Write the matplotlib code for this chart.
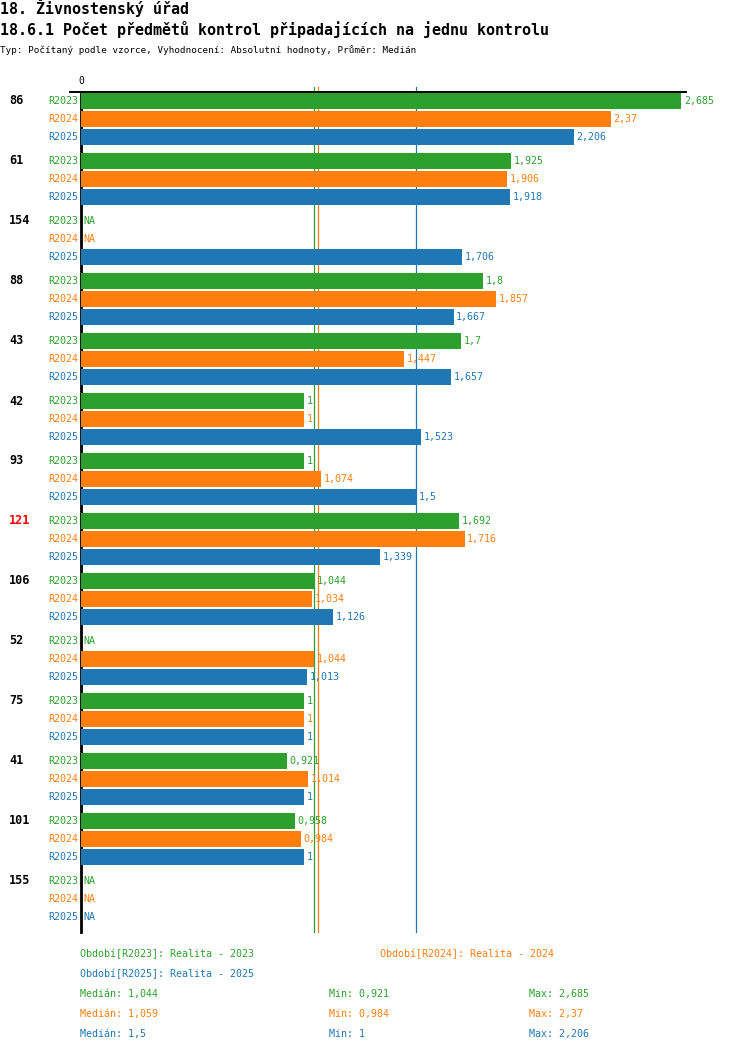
#!/usr/bin/env python
# Pocet predmetu kontrol pripadajicich na jednu kontrolu - horizontal grouped bars

import numpy as np
import matplotlib.pyplot as plt
from matplotlib.lines import Line2D

plt.rcParams['font.family'] = ['DejaVu Sans Mono']

groups = ["86", "61", "154", "88", "43", "42", "93", "121",
          "106", "52", "75", "41", "101", "155"]
highlight = "121"
nan = np.nan
r2023 = [2.685, 1.925, nan, 1.8, 1.7, 1, 1, 1.692, 1.044, nan, 1, 0.921, 0.958, nan]
r2024 = [2.37, 1.906, nan, 1.857, 1.447, 1, 1.074, 1.716, 1.034, 1.044, 1, 1.014, 0.984, nan]
r2025 = [2.206, 1.918, 1.706, 1.667, 1.657, 1.523, 1.5, 1.339, 1.126, 1.013, 1, 1, 1, nan]

series = ["R2023", "R2024", "R2025"]
values = [r2023, r2024, r2025]
colors = ["#2ca02c", "#ff7f0e", "#1f77b4"]
legend_names = ["Realita - 2023", "Realita - 2024", "Realita - 2025"]

def fmt(v):
    s = f"{v:.3f}".rstrip("0").rstrip(".")
    return s.replace(".", ",")

W, H = 750, 1052
fig = plt.figure(figsize=(W / 100, H / 100), dpi=100)

# axes placement in pixels
ax_l, ax_r, ax_t, ax_b = 81, 686, 92, 932
ax = fig.add_axes([ax_l / W, 1 - ax_b / H, (ax_r - ax_l) / W, (ax_b - ax_t) / H])

group_h = 60
row_h = 18
xmax = 2.707
ax.set_xlim(0, xmax)
ax.set_ylim(len(groups) * group_h, 0)

for s, (name, vals, col) in enumerate(zip(series, values, colors)):
    vals = np.array(vals, dtype=float)
    ys = np.arange(len(groups)) * group_h + 9 + s * row_h
    ok = ~np.isnan(vals)
    ax.barh(ys[ok], vals[ok], height=15.5, color=col, zorder=3)
    for y, v in zip(ys, vals):
        if np.isnan(v):
            ax.text(0.012, y, "NA", color=col, fontsize=7.2, va="center", ha="left")
        else:
            ax.text(v + 0.012, y, fmt(v), color=col, fontsize=7.2, va="center", ha="left")
        ax.text(-0.012, y, name, color=col, fontsize=7.2, va="center", ha="right")
    # median line
    med = np.nanmedian(vals)
    ax.axvline(med, ymin=0, ymax=1 + 5 / 840, color=col, lw=0.9, zorder=1, clip_on=False)

for g, lab in enumerate(groups):
    y = g * group_h + 9
    ax.text(9 / W, 1 - (ax_t + y) / H, lab, transform=fig.transFigure,
            fontsize=8.5, fontweight="bold", va="center", ha="left",
            color="red" if lab == highlight else "black")

for side in ["right", "bottom"]:
    ax.spines[side].set_visible(False)
ax.spines["left"].set_linewidth(2)
ax.spines["top"].set_linewidth(1.4)
ax.set_xticks([])
ax.set_yticks([])
fig.add_artist(Line2D([70 / W, ax_l / W], [1 - ax_t / H, 1 - ax_t / H],
                      color="black", lw=1.4))
fig.text(ax_l / W, 1 - 81 / H, "0", fontsize=7, ha="center", va="center")

# titles
fig.text(0, 1 - 8 / H, "18. Živnostenský úřad", fontsize=10.8,
         fontweight="bold", va="center", ha="left")
fig.text(0, 1 - 30 / H, "18.6.1 Počet předmětů kontrol připadajících na jednu kontrolu",
         fontsize=10.8, fontweight="bold", va="center", ha="left")
fig.text(0, 1 - 50 / H,
         "Typ: Počítaný podle vzorce, Vyhodnocení: Absolutní hodnoty, Průměr: Medián",
         fontsize=6.7, va="center", ha="left")

# legend
leg_pos = [(80, 954), (380, 954), (80, 974)]
for (x, y), name, lname, col in zip(leg_pos, series, legend_names, colors):
    fig.text(x / W, 1 - y / H, f"Období[{name}]: {lname}", color=col,
             fontsize=7.2, va="center", ha="left")

for i, (vals, col) in enumerate(zip(values, colors)):
    y = 994 + i * 20
    vals = np.array(vals, dtype=float)
    fig.text(80 / W, 1 - y / H, f"Medián: {fmt(np.nanmedian(vals))}", color=col,
             fontsize=7.2, va="center", ha="left")
    fig.text(329 / W, 1 - y / H, f"Min: {fmt(np.nanmin(vals))}", color=col,
             fontsize=7.2, va="center", ha="left")
    fig.text(529 / W, 1 - y / H, f"Max: {fmt(np.nanmax(vals))}", color=col,
             fontsize=7.2, va="center", ha="left")

fig.savefig("out.png", dpi=100)
